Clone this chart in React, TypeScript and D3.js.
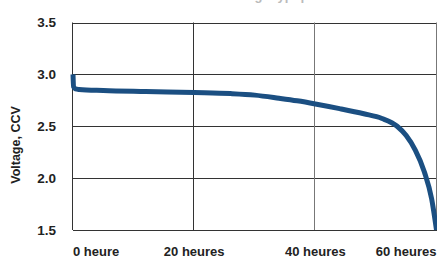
import * as d3 from "d3";

// discharge curve (hours, volts)
const hours = [0, 0.1, 0.4, 1, 5, 12, 20, 26, 30, 34, 37, 40, 44, 48, 51, 53.5, 55, 56.5, 58, 59.2, 60];
const volts = [3.0, 2.88, 2.86, 2.855, 2.845, 2.835, 2.825, 2.815, 2.8, 2.77, 2.745, 2.715, 2.67, 2.62, 2.575, 2.5, 2.41, 2.27, 2.06, 1.8, 1.5];

const xTicks = [0, 20, 40, 60];
const xTickLabels = ["0 heure", "20 heures", "40 heures", "60 heures"];
const yTicks = [1.5, 2.0, 2.5, 3.0, 3.5];

const width = 437,
  height = 257,
  marginTop = 22.5,
  marginRight = 0.5,
  marginBottom = 27,
  marginLeft = 73;

const font = "'Liberation Sans', Arial, sans-serif";

export default function App() {
  const x = d3.scaleLinear().domain([0, 60]).range([marginLeft, width - marginRight]);
  const y = d3.scaleLinear().domain([1.5, 3.5]).range([height - marginBottom, marginTop]);

  const data = hours.map((h, i) => [h, volts[i]] as [number, number]);
  const line = d3
    .line<[number, number]>()
    .x((d) => x(d[0]))
    .y((d) => y(d[1]))
    .curve(d3.curveMonotoneX);

  return (
    <svg
      width={width}
      height={height}
      style={{ position: "absolute", left: 0, top: 0, background: "#fff" }}
    >
      {/* title, cropped off at the top in the source */}
      <text x={230} y={-0.5} textAnchor="middle" fill="#bbb" fontFamily={font} fontWeight="bold" fontSize={13}>
        Tension de décharge typique
      </text>
      {/* horizontal grid */}
      {yTicks.map((t) => (
        <line
          key={"h" + t}
          x1={marginLeft}
          x2={width}
          y1={Math.round(y(t)) + 0.5}
          y2={Math.round(y(t)) + 0.5}
          stroke="#333"
          strokeWidth={1}
        />
      ))}
      {/* vertical grid */}
      {xTicks.map((t, i) => (
        <line
          key={"v" + t}
          x1={Math.round(x(t)) - 0.5}
          x2={Math.round(x(t)) - 0.5}
          y1={y(3.5)}
          y2={y(1.5)}
          stroke={i === 2 || i === 3 ? "#777" : "#333"}
          strokeWidth={1}
        />
      ))}
      <path d={line(data) ?? ""} fill="none" stroke="#1b4f82" strokeWidth={5} strokeLinejoin="round" />
      {yTicks.map((t) => (
        <text
          key={"yl" + t}
          x={56}
          y={y(t)}
          dy="0.36em"
          textAnchor="end"
          fill="#222"
          fontFamily={font}
          fontWeight="bold"
          fontSize={13.5}
        >
          {t.toFixed(1)}
        </text>
      ))}
      {xTicks.map((t, i) => (
        <text
          key={"xl" + t}
          x={x(t)}
          y={255.5}
          textAnchor={i === 0 ? "start" : i === xTicks.length - 1 ? "end" : "middle"}
          fill="#222"
          fontFamily={font}
          fontWeight="bold"
          fontSize={13}
        >
          {xTickLabels[i]}
        </text>
      ))}
      <text
        transform="translate(20,145) rotate(-90)"
        textAnchor="middle"
        fill="#222"
        fontFamily={font}
        fontWeight="bold"
        fontSize={12.5}
      >
        Voltage, CCV
      </text>
    </svg>
  );
}
